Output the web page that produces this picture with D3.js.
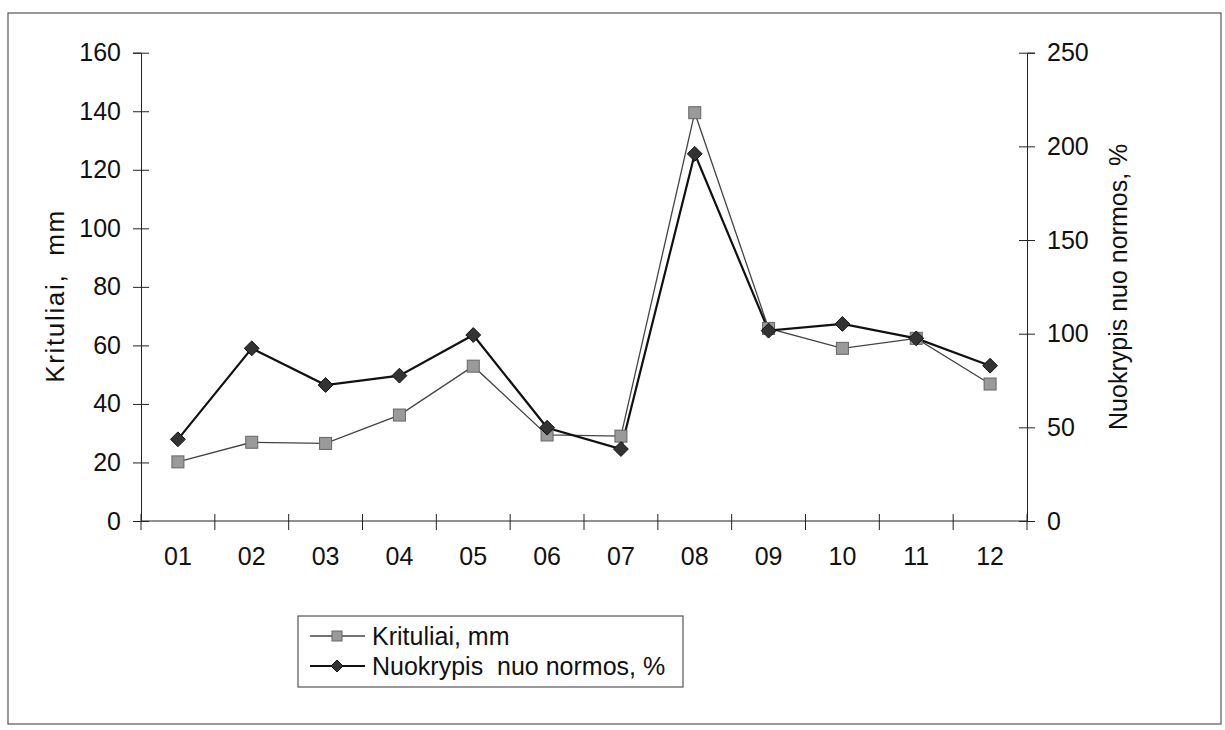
<!DOCTYPE html>
<meta charset="utf-8">
<script src="https://d3js.org/d3.v7.min.js"></script>
<style>
  body { margin: 0; background: #fff; }
  text { font-family: "Liberation Sans", Arial, sans-serif; fill: #111; }
</style>
<div id="chart"></div>
<script>

    // data
    var months = ["01", "02", "03", "04", "05", "06", "07", "08", "09", "10", "11", "12"];
    var krituliai = [20.2, 26.9, 26.5, 36.2, 52.9, 29.4, 29.0, 139.5, 65.8, 59.0, 62.4, 46.8];
    var nuokrypis = [43.6, 92.2, 72.6, 77.6, 99.3, 49.8, 38.4, 196, 101.6, 105.2, 97.5, 82.9];
    var leftTicks = [0, 20, 40, 60, 80, 100, 120, 140, 160];
    var rightTicks = [0, 50, 100, 150, 200, 250];

    var W = 1225, H = 730;
    var plot = { left: 141, right: 1027, top: 52.7, bottom: 521 };

    var svg = d3.select("#chart").append("svg")
        .attr("width", W)
        .attr("height", H);

    // outer frame
    svg.append("rect")
        .attr("x", 8).attr("y", 13)
        .attr("width", 1213).attr("height", 711)
        .attr("fill", "none")
        .attr("stroke", "#555")
        .attr("stroke-width", 1.2);

    var x = d3.scaleBand().domain(months).range([plot.left, plot.right]);
    var yL = d3.scaleLinear().domain([0, 160]).range([plot.bottom, plot.top]);
    var yR = d3.scaleLinear().domain([0, 250]).range([plot.bottom, plot.top]);

    // left axis
    var gL = svg.append("g")
        .attr("transform", "translate(" + plot.left + ",0)")
        .call(d3.axisLeft(yL).tickValues(leftTicks).tickSize(8).tickPadding(12));
    gL.selectAll(".tick line").attr("x1", 8);
    gL.selectAll("text").style("font-size", "25px");

    // right axis
    var gR = svg.append("g")
        .attr("transform", "translate(" + plot.right + ",0)")
        .call(d3.axisRight(yR).tickValues(rightTicks).tickSize(8).tickPadding(12));
    gR.selectAll(".tick line").attr("x1", -8);
    gR.selectAll("text").style("font-size", "25px");

    // bottom axis: labels centred, ticks on the band edges
    var gB = svg.append("g")
        .attr("transform", "translate(0," + plot.bottom + ")")
        .call(d3.axisBottom(x).tickSize(0).tickPadding(26));
    gB.select(".domain").remove();
    gB.selectAll("text").style("font-size", "25px");
    svg.append("line")
        .attr("x1", plot.left).attr("x2", plot.right)
        .attr("y1", plot.bottom).attr("y2", plot.bottom)
        .attr("stroke", "#222");
    var edges = months.map(function (d) { return x(d); }).concat([plot.right]);
    svg.selectAll(".xedge").data(edges).enter().append("line")
        .attr("x1", function (d) { return d; })
        .attr("x2", function (d) { return d; })
        .attr("y1", plot.bottom - 7)
        .attr("y2", plot.bottom + 9)
        .attr("stroke", "#222");

    svg.selectAll(".domain").attr("stroke", "#222");
    svg.selectAll(".tick line").attr("stroke", "#222");

    // axis titles
    svg.append("text")
        .attr("transform", "translate(55," + ((plot.top + plot.bottom) / 2 + 10) + ") rotate(-90)")
        .attr("text-anchor", "middle")
        .attr("dominant-baseline", "central")
        .attr("textLength", 172)
        .attr("lengthAdjust", "spacing")
        .style("font-size", "26px")
        .style("white-space", "pre")
        .text("Krituliai,  mm");

    svg.append("text")
        .attr("transform", "translate(1118," + ((plot.top + plot.bottom) / 2) + ") rotate(-90)")
        .attr("text-anchor", "middle")
        .attr("dominant-baseline", "central")
        .style("font-size", "25px")
        .text("Nuokrypis nuo normos, %");

    var cx = function (i) { return x(months[i]) + x.bandwidth() / 2; };

    // Krituliai line
    svg.append("path")
        .datum(krituliai)
        .attr("fill", "none")
        .attr("stroke", "#444")
        .attr("stroke-width", 1.3)
        .attr("d", d3.line()
            .x(function (d, i) { return cx(i); })
            .y(function (d) { return yL(d); }));

    // Nuokrypis line
    svg.append("path")
        .datum(nuokrypis)
        .attr("fill", "none")
        .attr("stroke", "#111")
        .attr("stroke-width", 2.2)
        .attr("d", d3.line()
            .x(function (d, i) { return cx(i); })
            .y(function (d) { return yR(d); }));

    svg.selectAll(".sq").data(krituliai).enter().append("rect")
        .attr("x", function (d, i) { return cx(i) - 6; })
        .attr("y", function (d) { return yL(d) - 6; })
        .attr("width", 12).attr("height", 12)
        .attr("fill", "#9a9a9a")
        .attr("stroke", "#666")
        .attr("stroke-width", 1);

    var diamond = d3.symbol().type(d3.symbolDiamond2).size(140);
    svg.selectAll(".dm").data(nuokrypis).enter().append("path")
        .attr("transform", function (d, i) { return "translate(" + cx(i) + "," + yR(d) + ")"; })
        .attr("d", diamond)
        .attr("fill", "#333")
        .attr("stroke", "#111")
        .attr("stroke-width", 1);

    // legend
    var lg = svg.append("g");
    lg.append("rect")
        .attr("x", 298).attr("y", 616)
        .attr("width", 385).attr("height", 71)
        .attr("fill", "#fff")
        .attr("stroke", "#555")
        .attr("stroke-width", 1.2);

    var legendRows = [
        { label: "Krituliai, mm", y: 636 },
        { label: "Nuokrypis  nuo normos, %", y: 666 }
    ];
    legendRows.forEach(function (r, k) {
        lg.append("line")
            .attr("x1", 310).attr("x2", 365)
            .attr("y1", r.y).attr("y2", r.y)
            .attr("stroke", k === 0 ? "#444" : "#111")
            .attr("stroke-width", k === 0 ? 1.3 : 2.2);
        if (k === 0) {
            lg.append("rect")
                .attr("x", 332).attr("y", r.y - 5)
                .attr("width", 10).attr("height", 10)
                .attr("fill", "#9a9a9a").attr("stroke", "#666");
        } else {
            lg.append("path")
                .attr("transform", "translate(337," + r.y + ")")
                .attr("d", d3.symbol().type(d3.symbolDiamond2).size(90))
                .attr("fill", "#333").attr("stroke", "#111");
        }
        lg.append("text")
            .attr("x", 372).attr("y", r.y)
            .attr("dominant-baseline", "central")
            .style("font-size", "25px")
            .style("white-space", "pre")
            .text(r.label);
    });
</script>
